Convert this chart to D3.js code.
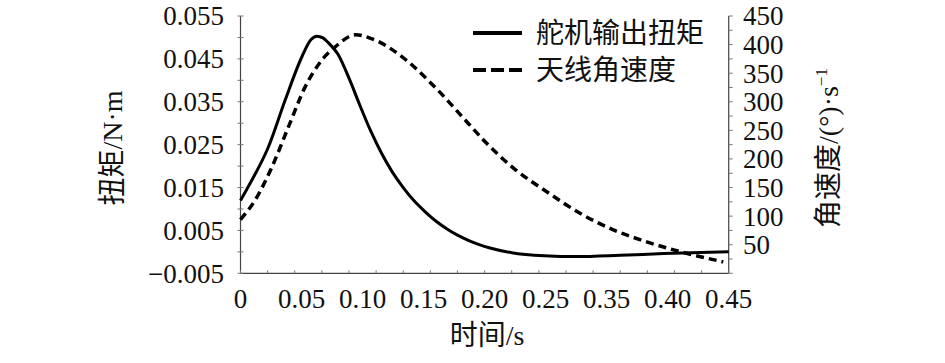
<!DOCTYPE html>
<html><head><meta charset="utf-8">
<script src="https://cdn.jsdelivr.net/npm/d3@7"></script>
<style>
body{margin:0;background:#fff;}
</style></head>
<body><svg id="c" width="945" height="363"></svg>
<script>
// ---- data ----
const timeS = [0,0.004,0.0089,0.0258,0.0412,0.0566,0.065,0.0704,0.076,0.08,0.09,0.10,0.11,0.12,0.13,0.14,0.15,0.16,0.17,0.18,0.19,0.20,0.21,0.22,0.23,0.25,0.28,0.31,0.35,0.39,0.45];
const torque = [0.012,0.0138,0.016,0.0245,0.0354,0.0455,0.0495,0.0503,0.0499,0.0490,0.0460,0.0405,0.0342,0.0282,0.0230,0.0186,0.0150,0.0119,0.0094,0.0072,0.0054,0.0039,0.0027,0.0017,0.0009,-0.0002,-0.0009,-0.0011,-0.0008,-0.0004,0.0];
const timeW = [0,0.0135,0.029,0.0442,0.0596,0.075,0.0873,0.1057,0.124,0.1487,0.179,0.21,0.2255,0.2516,0.282,0.313,0.3437,0.3745,0.405,0.445];
const angVel = [94,128,186,256,326,373,396,417,408,379,326,262,230,184,143,105,76,55,38,20];
const xTickLabels = ["0","0.05","0.10","0.15","0.20","0.25","0.35","0.40","0.45"];
const leftTickLabels = [-0.005,0.005,0.015,0.025,0.035,0.045,0.055];
const rightTickLabels = [50,100,150,200,250,300,350,400,450];
const seriesNames = ["舵机输出扭矩","天线角速度"];

const SERIF = "'Liberation Serif', 'DejaVu Serif', serif";
const CJK = "'Liberation Serif', 'Noto Sans CJK SC', serif";

const svg = d3.select("#c");
const L=240.5, R=728.7, T=16, B=273.3;
const x = d3.scaleLinear().domain([0,0.45]).range([L,R]);
const yL = d3.scaleLinear().domain([-0.005,0.055]).range([B,T]);
const yR = d3.scaleLinear().domain([0,450]).range([B,T]);
const xLab = d3.scalePoint().domain(xTickLabels).range([L,R]);

const axisColor="#444";
const g = svg.append("g");
g.append("line").attr("x1",L).attr("x2",L).attr("y1",T).attr("y2",B).attr("stroke",axisColor).attr("stroke-width",1.2);
g.append("line").attr("x1",R).attr("x2",R).attr("y1",T).attr("y2",B).attr("stroke",axisColor).attr("stroke-width",1.2);
g.append("line").attr("x1",L).attr("x2",R).attr("y1",B).attr("y2",B).attr("stroke",axisColor).attr("stroke-width",1.2);

const lt = d3.range(0,13).map(i=>-0.005+i*0.005);
g.selectAll(".lt").data(lt).join("line").attr("x1",L-3).attr("x2",L+3)
 .attr("y1",d=>yL(d)).attr("y2",d=>yL(d)).attr("stroke","#777").attr("stroke-width",1);
const rt = d3.range(0,19).map(i=>i*25);
g.selectAll(".rt").data(rt).join("line").attr("x1",R).attr("x2",R+4)
 .attr("y1",d=>yR(d)).attr("y2",d=>yR(d)).attr("stroke","#777").attr("stroke-width",1);
const bt = d3.range(0,19).map(i=>i*0.025);
g.selectAll(".bt").data(bt).join("line").attr("y1",B).attr("y2",B-3)
 .attr("x1",d=>x(d)).attr("x2",d=>x(d)).attr("stroke","#777").attr("stroke-width",1);

const fs=27;
g.selectAll(".ll").data(leftTickLabels).join("text").attr("x",224).attr("y",d=>yL(d)).attr("dy","0.35em")
 .attr("text-anchor","end").attr("font-family",SERIF).attr("font-size",fs).attr("fill","#111")
 .text(d=>d<0?"\u2212"+Math.abs(d).toFixed(3):d.toFixed(3));
g.selectAll(".rl").data(rightTickLabels).join("text").attr("x",743).attr("y",d=>yR(d)).attr("dy","0.35em")
 .attr("text-anchor","start").attr("font-family",SERIF).attr("font-size",fs).attr("fill","#111").text(d=>d);
g.selectAll(".bl").data(xTickLabels).join("text").attr("x",d=>xLab(d)).attr("y",308)
 .attr("text-anchor","middle").attr("font-family",SERIF).attr("font-size",fs).attr("fill","#111").text(d=>d);

svg.append("text").attr("font-family",CJK).attr("fill","#111").attr("transform","translate(122,148) rotate(-90)")
 .attr("text-anchor","middle").attr("font-size",28).text("扭矩/N·m");
const rtT = svg.append("text").attr("font-family",CJK).attr("fill","#111").attr("transform","translate(838,148) rotate(-90)")
 .attr("text-anchor","middle").attr("font-size",28);
rtT.append("tspan").text("角速度/(°)·s");
rtT.append("tspan").attr("dy",-11).attr("font-size",17).text("\u22121");
svg.append("text").attr("font-family",CJK).attr("fill","#111").attr("x",487).attr("y",345).attr("text-anchor","middle").attr("font-size",28).text("时间/s");

const lineT = d3.line().x((d,i)=>x(timeS[i])).y(d=>yL(d)).curve(d3.curveMonotoneX);
const lineW = d3.line().x((d,i)=>x(timeW[i])).y(d=>yR(d)).curve(d3.curveMonotoneX);
svg.append("path").attr("d",lineT(torque)).attr("fill","none").attr("stroke","#000").attr("stroke-width",3);
svg.append("path").attr("d",lineW(angVel)).attr("fill","none").attr("stroke","#000").attr("stroke-width",3.5).attr("stroke-dasharray","8,5");

const leg = svg.append("g");
const ly=[33,70];
leg.append("line").attr("x1",473).attr("x2",522).attr("y1",ly[0]).attr("y2",ly[0]).attr("stroke","#000").attr("stroke-width",4);
leg.append("line").attr("x1",473).attr("x2",522).attr("y1",ly[1]).attr("y2",ly[1]).attr("stroke","#000").attr("stroke-width",4).attr("stroke-dasharray","13,5");
leg.selectAll(".lt2").data(seriesNames).join("text").attr("font-family",CJK).attr("fill","#111").attr("x",536).attr("y",(d,i)=>ly[i]).attr("dy","0.36em")
 .attr("font-size",28).text(d=>d);
</script></body></html>
